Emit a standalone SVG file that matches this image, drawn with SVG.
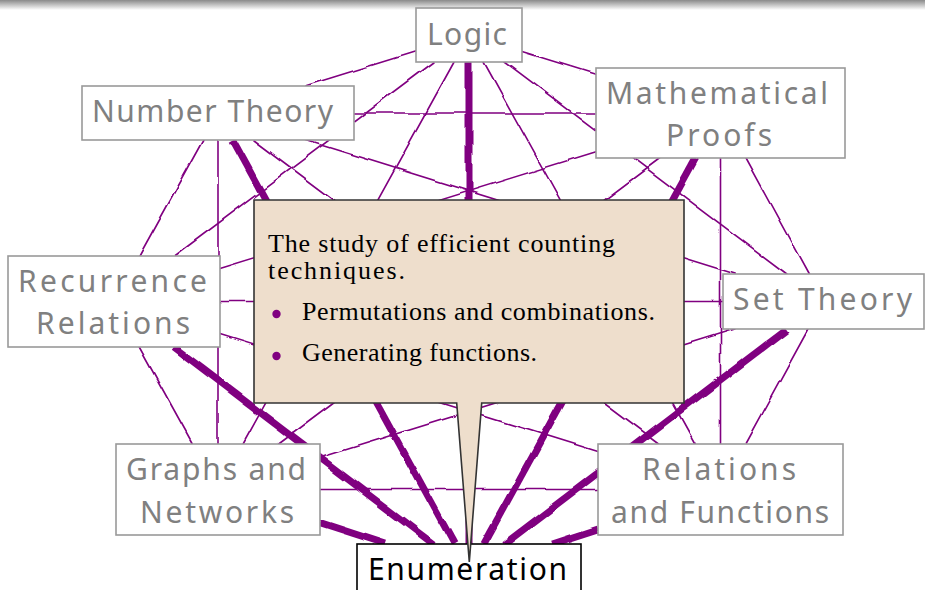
<svg xmlns="http://www.w3.org/2000/svg" width="925" height="590" viewBox="0 0 925 590">
  <defs>
    <linearGradient id="topbar" x1="0" y1="0" x2="0" y2="1">
      <stop offset="0" stop-color="#8a8a8a"/>
      <stop offset="0.5" stop-color="#c4c4c4"/>
      <stop offset="1" stop-color="#ffffff"/>
    </linearGradient>
    <filter id="wobble" filterUnits="userSpaceOnUse" x="0" y="0" width="925" height="590">
      <feTurbulence type="fractalNoise" baseFrequency="0.04" numOctaves="1" seed="7" result="noise"/>
      <feDisplacementMap in="SourceGraphic" in2="noise" scale="5" xChannelSelector="R" yChannelSelector="G"/>
    </filter>
    <style>
      .thin { fill: none; stroke: #800080; stroke-width: 1.6; stroke-linecap: round; }
      .thick { fill: none; stroke: #800080; stroke-width: 7; stroke-linecap: butt; }
      .box { fill: #ffffff; stroke: #999999; stroke-width: 1.6; }
      .ebox { fill: #ffffff; stroke: #000000; stroke-width: 1.6; }
      .lbl { font-family: "Noto Sans", "DejaVu Sans", sans-serif; font-size: 30px; fill: #808080; }
      .elbl { font-family: "Noto Sans", "DejaVu Sans", sans-serif; font-size: 30px; fill: #000000; }
      .note { font-family: "Liberation Serif", "DejaVu Serif", serif; font-size: 26px; fill: #000000; }
      .callout { fill: #eedecc; stroke: #333333; stroke-width: 1.6; stroke-linejoin: miter; }
    </style>
  </defs>

  <rect x="0" y="0" width="925" height="590" fill="#ffffff"/>
  <rect x="0" y="0" width="925" height="10" fill="url(#topbar)"/>

  <g id="connectors" filter="url(#wobble)">
    <g id="thin-edges">
      <path class="thin" d="M522,51.4 L596,74.4"/>
      <path class="thin" d="M504.9,62 L786.9,274"/>
      <path class="thin" d="M483.9,62 L695.3,444"/>
      <path class="thin" d="M454.1,62 L243.1,444"/>
      <path class="thin" d="M433,62 L174.6,256"/>
      <path class="thin" d="M416,51.5 L304.9,86"/>
      <path class="thin" d="M745.1,158 L808.5,274"/>
      <path class="thin" d="M720.5,158 L720.5,444"/>
      <path class="thin" d="M660.5,158 L278.7,444"/>
      <path class="thin" d="M596,151.7 L220,268.6"/>
      <path class="thin" d="M596,113 L354,113"/>
      <path class="thin" d="M808.4,329 L745.4,444"/>
      <path class="thin" d="M734.9,329 L320,457.8"/>
      <path class="thin" d="M723,301.5 L220,301.5"/>
      <path class="thin" d="M735.2,274 L304.7,140"/>
      <path class="thin" d="M598,489.5 L320,489.5"/>
      <path class="thin" d="M598,451.5 L220,334.4"/>
      <path class="thin" d="M659.8,444 L254,140"/>
      <path class="thin" d="M192.8,444 L139.2,347"/>
      <path class="thin" d="M218,444 L218,140"/>
      <path class="thin" d="M139.1,256 L203.1,140"/>
    </g>
    <g id="thick-edges">
      <path class="thick" d="M469,62 L469,544"/>
      <path class="thick" d="M695.8,158 L483.8,544"/>
      <path class="thick" d="M787.3,329 L504.5,544"/>
      <path class="thick" d="M598,529.2 L552.3,544"/>
      <path class="thick" d="M385.9,544 L320,522.6"/>
      <path class="thick" d="M433.4,544 L173.9,347"/>
      <path class="thick" d="M454.2,544 L232.8,140"/>
    </g>
  </g>

  <g id="node-logic">
    <rect class="box" x="416" y="8" width="106" height="54"/>
    <text class="lbl" x="427" y="45" textLength="80" lengthAdjust="spacing">Logic</text>
  </g>
  <g id="node-number-theory">
    <rect class="box" x="82" y="86" width="272" height="54"/>
    <text class="lbl" x="92" y="122" textLength="241" lengthAdjust="spacing">Number Theory</text>
  </g>
  <g id="node-mathematical-proofs">
    <rect class="box" x="596" y="68" width="249" height="90"/>
    <text class="lbl" x="606" y="104" textLength="222" lengthAdjust="spacing">Mathematical</text>
    <text class="lbl" x="666" y="146" textLength="106" lengthAdjust="spacing">Proofs</text>
  </g>
  <g id="node-recurrence-relations">
    <rect class="box" x="8" y="256" width="212" height="91"/>
    <text class="lbl" x="18" y="292" textLength="189" lengthAdjust="spacing">Recurrence</text>
    <text class="lbl" x="36" y="334" textLength="154" lengthAdjust="spacing">Relations</text>
  </g>
  <g id="node-set-theory">
    <rect class="box" x="723" y="274" width="201" height="55"/>
    <text class="lbl" x="733" y="310" textLength="179" lengthAdjust="spacing">Set Theory</text>
  </g>
  <g id="node-graphs-networks">
    <rect class="box" x="116" y="444" width="204" height="91"/>
    <text class="lbl" x="126" y="480" textLength="180" lengthAdjust="spacing">Graphs and</text>
    <text class="lbl" x="140" y="523" textLength="154" lengthAdjust="spacing">Networks</text>
  </g>
  <g id="node-relations-functions">
    <rect class="box" x="598" y="444" width="245" height="91"/>
    <text class="lbl" x="642" y="480" textLength="154" lengthAdjust="spacing">Relations</text>
    <text class="lbl" x="611" y="523" textLength="218" lengthAdjust="spacing">and Functions</text>
  </g>
  <g id="node-enumeration">
    <rect class="ebox" x="357" y="544" width="224" height="56"/>
    <text class="elbl" x="368" y="580" textLength="199" lengthAdjust="spacing">Enumeration</text>
  </g>

  <g id="callout">
    <path class="callout" d="M254,200 H684 V403 H481.7 L469.3,562 L456.7,403 H254 Z"/>
    <text class="note" x="268" y="252" textLength="347" lengthAdjust="spacing">The study of efficient counting</text>
    <text class="note" x="268" y="279" textLength="137" lengthAdjust="spacing">techniques.</text>
    <circle cx="276.5" cy="314" r="4.2" fill="#800080"/>
    <text class="note" x="302" y="320" textLength="353" lengthAdjust="spacing">Permutations and combinations.</text>
    <circle cx="276.5" cy="356" r="4.2" fill="#800080"/>
    <text class="note" x="302" y="361" textLength="235" lengthAdjust="spacing">Generating functions.</text>
  </g>
</svg>
